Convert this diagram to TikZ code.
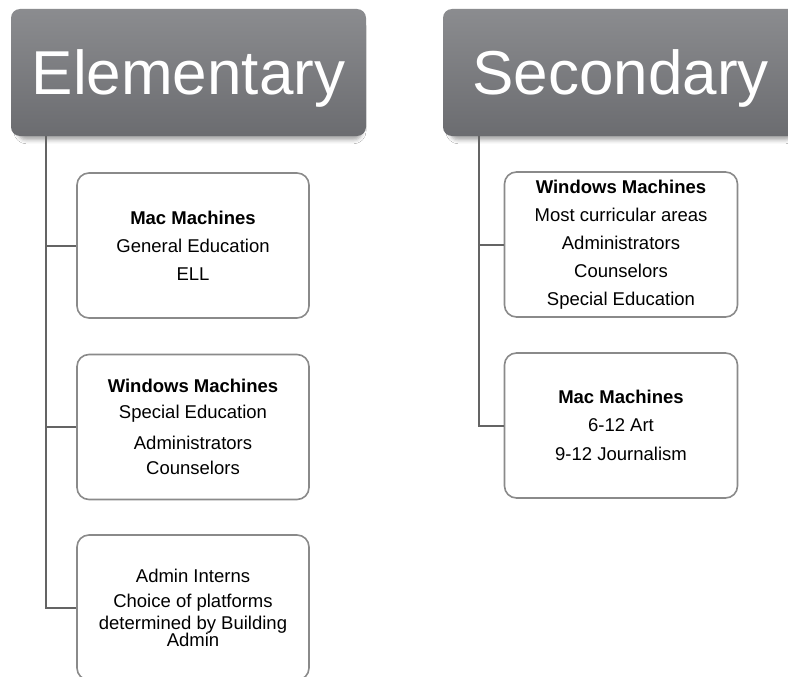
\documentclass[tikz,border=0pt]{standalone}
\usepackage{fontspec}
\setmainfont{Liberation Sans}
\usetikzlibrary{shadows.blur}
\definecolor{hdtop}{RGB}{139,140,143}
\definecolor{hdbot}{RGB}{107,108,112}
\definecolor{boxline}{RGB}{138,138,138}
\definecolor{connline}{RGB}{100,100,100}
\tikzset{
  header/.style={rectangle, rounded corners=9pt, top color=hdtop, bottom color=hdbot, draw=none,
    minimum width=355pt, minimum height=127pt, inner sep=0pt, text=white,
    font=\fontsize{62}{62}\selectfont, text height=44.5pt, text depth=0pt,
    blur shadow={shadow xshift=1.5pt, shadow yshift=-6pt, shadow scale=0.97, shadow blur radius=4pt, shadow opacity=35}},
  itembox/.style={rectangle, rounded corners=12pt, draw=boxline, line width=1.6pt, fill=white,
    minimum width=232pt, minimum height=145pt, inner sep=4pt, align=center, text=black,
    font=\fontsize{18.5}{28}\selectfont},
  conn/.style={draw=connline, line width=2pt}
}
\begin{document}
\begin{tikzpicture}[x=1pt,y=-1pt]
\useasboundingbox (0,0) rectangle (788,677);
\clip (0,0) rectangle (788,677);
\fill[white] (0,0) rectangle (788,677);
% headers
\node[header] (eh) at (188.5,72.5) {Elementary};
\node[header] (sh) at (620.5,72.5) {Secondary};
% elementary boxes
\node[itembox] (e1) at (193,245.5) {\textbf{Mac Machines}\\General Education\\ELL};
\node[itembox] (e2) at (193,427) {\textbf{Windows Machines}\\[-2.5pt]Special Education\\[3pt]Administrators\\[-3pt]Counselors};
\node[itembox] (e3) at (193,607.5) {Admin Interns\\[-3pt]Choice of platforms\\[-6pt]determined by Building\\[-11pt]Admin};
% secondary boxes
\node[itembox, minimum width=233pt] (s1) at (621,244.5) {\textbf{Windows Machines}\\Most curricular areas\\Administrators\\Counselors\\Special Education};
\node[itembox, minimum width=233pt] (s2) at (621,425.5) {\textbf{Mac Machines}\\6-12 Art\\[1pt]9-12 Journalism};
% connectors
\coordinate (et) at ([xshift=35.5pt]eh.south west);
\coordinate (st) at ([xshift=36pt]sh.south west);
\draw[conn] (et) |- (e1.west);
\draw[conn] (et) |- (e2.west);
\draw[conn] (et) |- (e3.west);
\draw[conn] (st) |- (s1.west);
\draw[conn] (st) |- (s2.west);
\end{tikzpicture}
\end{document}
